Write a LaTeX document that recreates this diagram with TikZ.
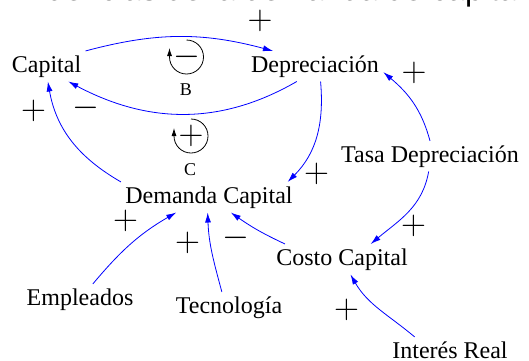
\documentclass[tikz,border=0pt]{standalone}
\usepackage{fontspec}
\setmainfont{Liberation Serif}
\newfontfamily\titlefont{Liberation Sans}
\usetikzlibrary{arrows.meta}

\begin{document}
\begin{tikzpicture}[
    x=0.5pt, y=0.5pt,
    var/.style = {
      inner sep=2pt,
      anchor=base,
      font=\fontsize{12}{14}\selectfont,
    },
    arr/.style = {
      draw=blue,
      line width=0.4pt,
      -{Latex[length=5pt,width=3pt]},
    },
    sign/.style = {
      inner sep=0pt,
      font=\fontsize{16}{18}\selectfont,
    },
    loopsym/.style = {
      draw=black,
      line width=0.4pt,
      -{Latex[length=4pt,width=2.5pt]},
    },
    looplbl/.style = {
      font=\fontsize{9}{10}\selectfont,
    },
  ]
  \useasboundingbox (0,0) rectangle (529,-360);
  \clip (0,0) rectangle (529,-360);

  \node[anchor=base west, inner sep=0pt, font=\titlefont\fontsize{16}{18}\selectfont] (title) at (4,-0.5) {Influencias de la demanda de capital};

  \node[var] (cap) at (46.5,-72) {Capital};
  \node[var] (dep) at (315,-72) {Depreciación};
  \node[var] (dem) at (209,-203) {Demanda Capital};
  \node[var] (tasa) at (430,-162) {Tasa Depreciación};
  \node[var] (costo) at (342,-265) {Costo Capital};
  \node[var] (emp) at (80,-305) {Empleados};
  \node[var] (tec) at (229,-313) {Tecnología};
  \node[var] (int) at (450,-358) {Interés Real};

  % loops
  \node[sign] (lB) at (186.5,-57) {$-$};
  \node[looplbl] (B) at (186,-90) {B};
  \draw[loopsym] ([shift={(90:8.5pt)}]lB.center) arc[start angle=90, end angle=-180, radius=8.5pt] -- ++(0,9);
  \node[sign] (lC) at (191,-136) {$+$};
  \node[looplbl] (C) at (190,-170) {C};
  \draw[loopsym] ([shift={(90:8.5pt)}]lC.center) arc[start angle=90, end angle=-180, radius=8.5pt] -- ++(0,8);

  % links
  \draw[arr] (cap.north east) to[out=15,in=165] (dep.160);
  \draw[arr] (dep.-140) to[out=-150,in=-28] (cap.-35);
  \draw[arr] (dem.north west) to[out=150,in=-80] (cap.-85);
  \draw[arr] (dep.-70) to[out=-85,in=45] (dem.11);
  \draw[arr] (tasa.north) to[out=105,in=-40] (dep.-5);
  \draw[arr] (tasa.-95) to[out=-100,in=40] (costo.28);
  \draw[arr] (costo.165) to[out=155,in=-35] (dem.-35);
  \draw[arr] (emp.50) to[out=50,in=-150] (dem.-155);
  \draw[arr] (tec.115) to[out=105,in=-88] (dem.-95);
  \draw[arr] (int.160) to[out=140,in=-60] (costo.-61);

  % polarities
  \node[sign] (s1) at (260,-21) {$+$};
  \node[sign] (s2) at (414,-72.5) {$+$};
  \node[sign] (s3) at (33.5,-111) {$+$};
  \node[sign] (s4) at (85.5,-108) {$-$};
  \node[sign] (s5) at (316.5,-174) {$+$};
  \node[sign] (s6) at (125.5,-221) {$+$};
  \node[sign] (s7) at (187.5,-242.5) {$+$};
  \node[sign] (s8) at (236,-238) {$-$};
  \node[sign] (s9) at (413.5,-225.5) {$+$};
  \node[sign] (s10) at (346.5,-309.5) {$+$};
\end{tikzpicture}
\end{document}
